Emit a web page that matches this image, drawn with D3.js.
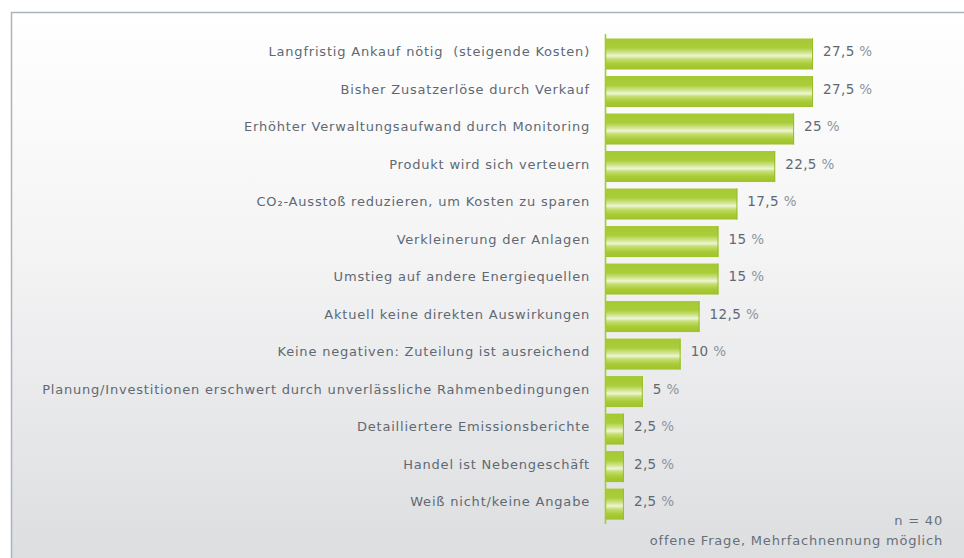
<!DOCTYPE html>
<html>
<head>
<meta charset="utf-8">
<script src="https://cdn.jsdelivr.net/npm/d3@7"></script>
<style>
  body { margin: 0; background: #ffffff; }
  text { font-family: "DejaVu Sans", sans-serif; white-space: pre; }
</style>
</head>
<body>
<script>
// chart data
var categories = [
  "Langfristig Ankauf nötig  (steigende Kosten)",
  "Bisher Zusatzerlöse durch Verkauf",
  "Erhöhter Verwaltungsaufwand durch Monitoring",
  "Produkt wird sich verteuern",
  "CO₂-Ausstoß reduzieren, um Kosten zu sparen",
  "Verkleinerung der Anlagen",
  "Umstieg auf andere Energiequellen",
  "Aktuell keine direkten Auswirkungen",
  "Keine negativen: Zuteilung ist ausreichend",
  "Planung/Investitionen erschwert durch unverlässliche Rahmenbedingungen",
  "Detailliertere Emissionsberichte",
  "Handel ist Nebengeschäft",
  "Weiß nicht/keine Angabe"
];
var values = [27.5, 27.5, 25, 22.5, 17.5, 15, 15, 12.5, 10, 5, 2.5, 2.5, 2.5];
var notes = ["n = 40", "offene Frage, Mehrfachnennung möglich"];

var svgWidth = 964;
var svgHeight = 558;

var svg = d3.select("body")
  .append("svg")
  .attr("width", svgWidth)
  .attr("height", svgHeight);

var defs = svg.append("defs");

// panel background gradient
var bg = defs.append("linearGradient")
  .attr("id", "bg")
  .attr("x1", 0).attr("y1", 0).attr("x2", 0).attr("y2", 1);
bg.append("stop").attr("offset", "0%").attr("stop-color", "#ffffff");
bg.append("stop").attr("offset", "40%").attr("stop-color", "#f5f5f6");
bg.append("stop").attr("offset", "100%").attr("stop-color", "#dcdddf");

// bar gloss gradient
var bar = defs.append("linearGradient")
  .attr("id", "barGrad")
  .attr("x1", 0).attr("y1", 0).attr("x2", 0).attr("y2", 1);
[["0%", "#a4c932"], ["30%", "#aacd3a"], ["48%", "#d6e89a"], ["56%", "#eef5d8"],
 ["66%", "#c6de72"], ["82%", "#a9cc36"], ["100%", "#9ec22c"]].forEach(function(s) {
  bar.append("stop").attr("offset", s[0]).attr("stop-color", s[1]);
});

// panel
svg.append("rect")
  .attr("x", 11.5).attr("y", 12.5)
  .attr("width", svgWidth).attr("height", svgHeight)
  .attr("fill", "url(#bg)")
  .attr("stroke", "#aab4bc")
  .attr("stroke-width", 1.5);

// scales
var x0 = 605;
var xScale = d3.scaleLinear()
  .domain([0, 27.5])
  .range([x0, 813]);

var yScale = d3.scaleBand()
  .domain(categories)
  .range([35.3, 522.8])
  .paddingInner(0.173)
  .paddingOuter(0.085);

var chart = svg.append("g");

// bars
chart.selectAll("rect.bar")
  .data(values)
  .enter()
  .append("rect")
  .attr("class", "bar")
  .attr("x", x0)
  .attr("y", (d, i) => yScale(categories[i]))
  .attr("width", d => xScale(d) - x0)
  .attr("height", yScale.bandwidth())
  .attr("fill", "url(#barGrad)");

// darker right edge of bars
chart.selectAll("line.edge")
  .data(values)
  .enter()
  .append("line")
  .attr("class", "edge")
  .attr("x1", d => xScale(d) - 0.5)
  .attr("x2", d => xScale(d) - 0.5)
  .attr("y1", (d, i) => yScale(categories[i]))
  .attr("y2", (d, i) => yScale(categories[i]) + yScale.bandwidth())
  .attr("stroke", "#98bd28")
  .attr("stroke-width", 1);

// axis line
chart.append("line")
  .attr("x1", x0 + 0.5).attr("x2", x0 + 0.5)
  .attr("y1", 34).attr("y2", 524)
  .attr("stroke", "#a6c934")
  .attr("stroke-width", 1.6);

// category labels
chart.selectAll("text.cat")
  .data(categories)
  .enter()
  .append("text")
  .attr("class", "cat")
  .attr("x", 590)
  .attr("y", d => yScale(d) + yScale.bandwidth() / 2 - 2.5)
  .attr("dy", "0.35em")
  .attr("text-anchor", "end")
  .attr("font-size", 13)
  .attr("letter-spacing", 0.8)
  .attr("fill", "#5f6973")
  .text(d => d);

// value labels
var vals = chart.selectAll("text.val")
  .data(values)
  .enter()
  .append("text")
  .attr("class", "val")
  .attr("x", d => xScale(d) + 10)
  .attr("y", (d, i) => yScale(categories[i]) + yScale.bandwidth() / 2 - 2.5)
  .attr("dy", "0.35em")
  .attr("font-size", 13.5)
  .attr("letter-spacing", 0.4)
  .attr("fill", "#5f6973");
vals.append("tspan").text(d => String(d).replace(".", ","));
vals.append("tspan").attr("fill", "#8c949c").text(" %");

// notes
chart.selectAll("text.note")
  .data(notes)
  .enter()
  .append("text")
  .attr("class", "note")
  .attr("x", 943)
  .attr("y", (d, i) => 525 + i * 20)
  .attr("text-anchor", "end")
  .attr("font-size", 13)
  .attr("letter-spacing", 0.8)
  .attr("fill", "#66707a")
  .text(d => d);
</script>
</body>
</html>
